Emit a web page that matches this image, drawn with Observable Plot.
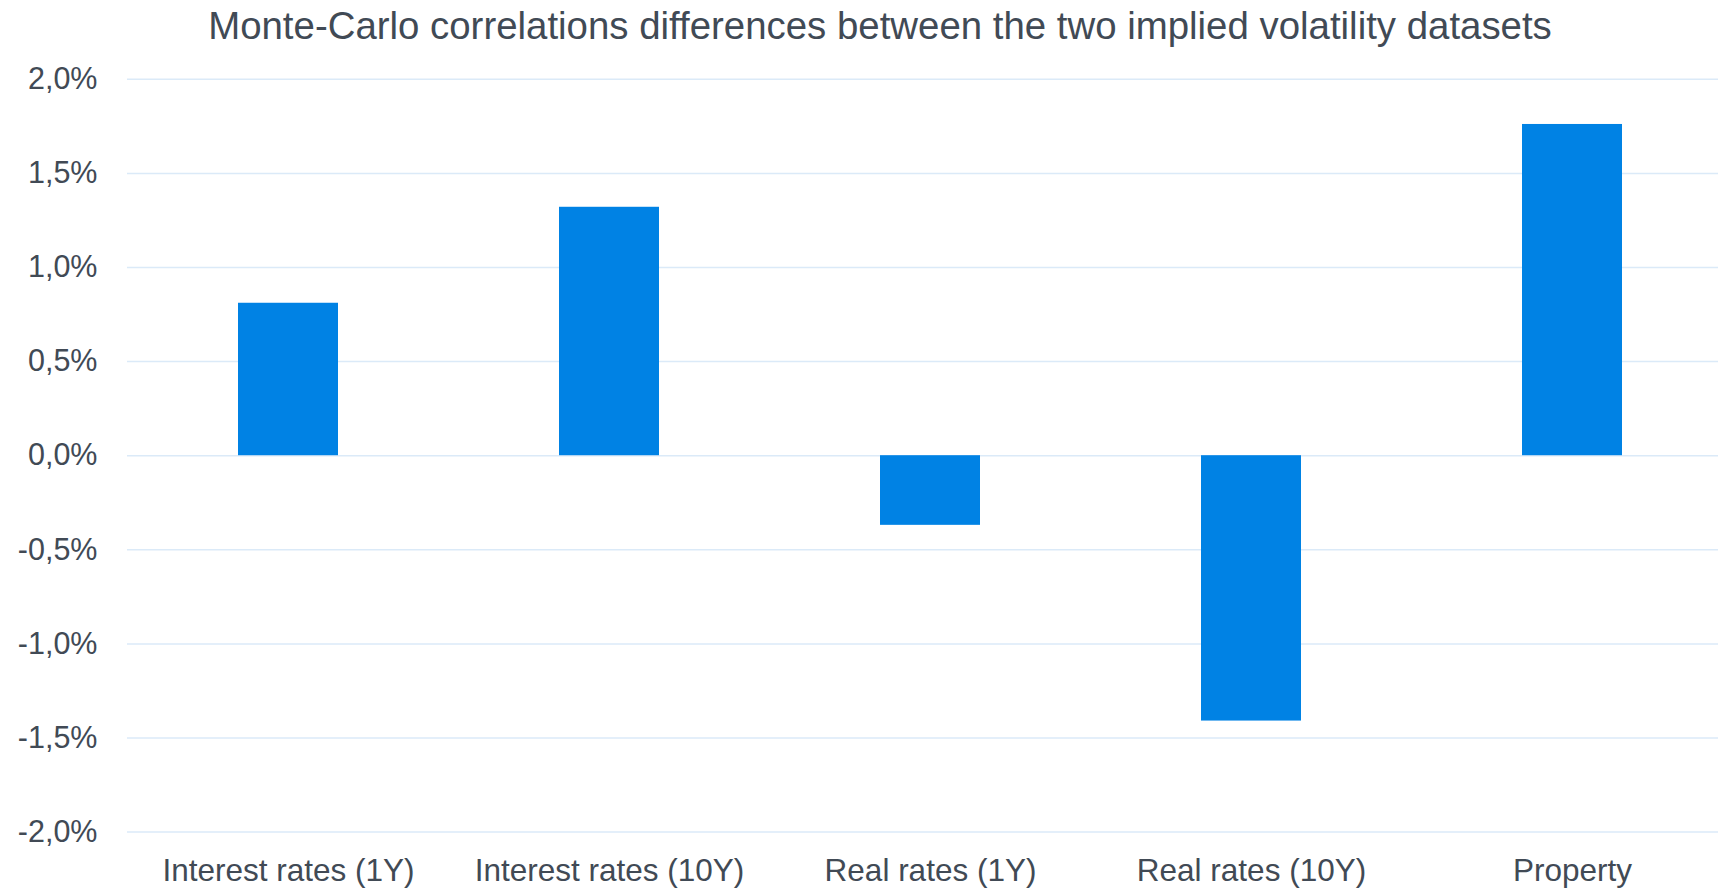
<!DOCTYPE html>
<html>
<head>
<meta charset="utf-8">
<script src="https://cdn.jsdelivr.net/npm/d3@7"></script>
<script src="https://cdn.jsdelivr.net/npm/@observablehq/plot@0.6"></script>
<style>
  html, body { margin: 0; padding: 0; background: #fff; overflow: hidden; }
  #wrap { width: 1718px; height: 889px; overflow: hidden; position: relative; font-family: "Liberation Sans", Arial, sans-serif; }
  #title { height: 48px; padding-top: 2px; line-height: 48px; font-size: 38.4px; color: #414a55; white-space: nowrap; position: relative; }
  #title span { position: absolute; left: 880px; transform: translateX(-50%); }
  #chart svg { max-width: none !important; height: 839px !important; display: block; }
</style>
</head>
<body>
<div id="wrap">
  <div id="title"><span>Monte-Carlo correlations differences between the two implied volatility datasets</span></div>
  <div id="chart"></div>
</div>
<script>
const categories = ["Interest rates (1Y)", "Interest rates (10Y)", "Real rates (1Y)", "Real rates (10Y)", "Property"];
const values = [0.81, 1.32, -0.37, -1.41, 1.76]; // percent
const yTicks = [-2.0, -1.5, -1.0, -0.5, 0.0, 0.5, 1.0, 1.5, 2.0];

const data = categories.map((c, i) => ({category: c, value: values[i]}));
const fmt = d => d.toFixed(1).replace(".", ",") + "%";

const chart = Plot.plot({
  width: 1734,
  height: 839,
  marginLeft: 127,
  marginRight: 0.5,
  marginTop: 28.8,
  marginBottom: 57.4,
  style: {fontFamily: "'Liberation Sans', Arial, sans-serif", fontSize: "30.5px", color: "#414a55", background: "transparent", maxWidth: "none"},
  x: {domain: categories, paddingInner: 0.69, paddingOuter: 0.345, label: null},
  y: {domain: [-2, 2], label: null},
  marks: [
    Plot.ruleY(yTicks, {stroke: "#dbeaf8", strokeWidth: 1.5}),
    Plot.barY(data, {x: "category", y: "value", fill: "#0082e4"}),
    Plot.axisY(yTicks, {tickSize: 0, tickPadding: 30, tickFormat: fmt, label: null, fill: "#414a55", fontSize: 30.5}),
    Plot.axisX({tickSize: 0, tickPadding: 26.7, label: null, fill: "#414a55", fontSize: 31.5})
  ]
});
document.getElementById("chart").appendChild(chart);
</script>
</body>
</html>
